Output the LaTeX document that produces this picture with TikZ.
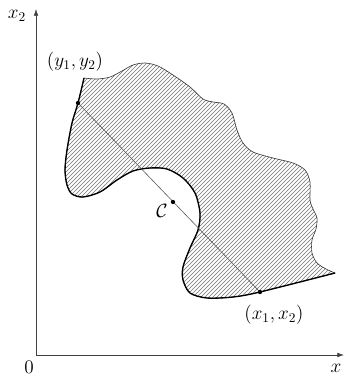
\documentclass[tikz,border=0pt]{standalone}
\usepackage{amsmath,amssymb}
\usetikzlibrary{arrows.meta,patterns}

\begin{document}
\begin{tikzpicture}[x=0.75pt, y=-0.75pt, every node/.style={font=\Large}, >={Latex[length=5pt,width=3.5pt]}]
\useasboundingbox (0,0) rectangle (345,378);
% axes
\coordinate (o) at (36,355);
\coordinate (xend) at (344,355);
\coordinate (yend) at (36,9);
\draw[->, black!75, line width=0.5pt] (o) -- (xend);
\draw[->, black!75, line width=0.5pt] (o) -- (yend);
\node (zero) at (29,367) {$0$};
\node (xlab) at (336,368) {$x$};
\node (x2lab) at (17,16) {$x_2$};
% region
\draw[line width=0.45pt, black!80, pattern=north east lines, pattern color=black!55]
  plot[smooth] coordinates {(84,78) (97,79) (110,77) (122,71) (133,65) (145,63) (158,66) (173,75) (190,87) (203,99) (213,102) (224,104) (232,113) (237,130) (243,143) (253,152) (273,158) (293,163) (305,170) (310,182) (310,200) (313,209) (317,218) (316,229) (312,240) (312,253) (317,263) (326,269) (335,273)}
  -- plot[smooth] coordinates {(335,273) (260,292) (233,297) (207,298) (190,293) (183,280) (183,267) (190,248) (198,230) (200,213) (195,193) (183,178) (167,169) (150,168) (133,171) (117,180) (100,192) (83,197) (72,194) (67,185) (65,170) (67,150) (72,123) (78,103) (84,78)}
  -- cycle;
\draw[line width=1pt]
  plot[smooth] coordinates {(335,273) (260,292) (233,297) (207,298) (190,293) (183,280) (183,267) (190,248) (198,230) (200,213) (195,193) (183,178) (167,169) (150,168) (133,171) (117,180) (100,192) (83,197) (72,194) (67,185) (65,170) (67,150) (72,123) (78,103) (84,78)};
% segment
\coordinate (y) at (78,103);
\coordinate (x) at (260,292);
\coordinate (c) at (173,202);
\draw[black!65, line width=0.45pt] (y) -- (x);
\fill (y) circle (1.6pt);
\fill (x) circle (1.6pt);
\fill (c) circle (1.6pt);
\node (ylab) at (75,62) {$(y_1,y_2)$};
\node (xlab2) at (274,315) {$(x_1,x_2)$};
\node (clab) at (162,211) {$\mathcal{C}$};
\end{tikzpicture}
\end{document}
